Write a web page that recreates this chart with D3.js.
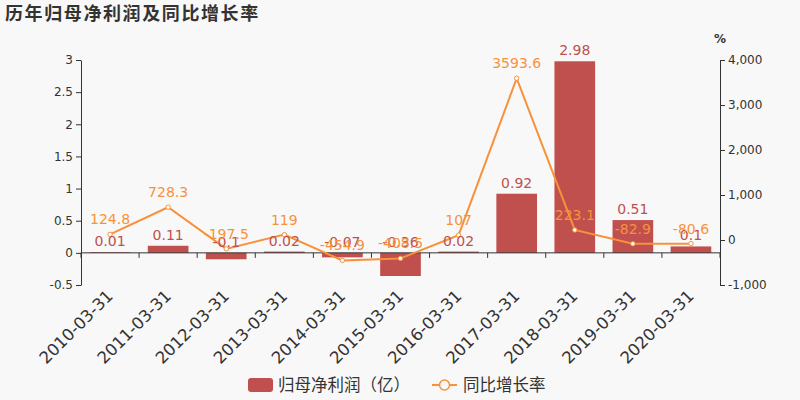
<!DOCTYPE html>
<html>
<head>
<meta charset="utf-8">
<script src="https://cdn.jsdelivr.net/npm/d3@7"></script>
<style>
  body { margin: 0; background: #f8f8f8; }
  svg { display: block; font-family: "DejaVu Sans", "Noto Sans CJK SC", sans-serif; }
  .cjk { font-family: "Noto Sans CJK SC", sans-serif; }
</style>
</head>
<body>
<div id="chart"></div>
<script>
var categories = ['2010-03-31', '2011-03-31', '2012-03-31', '2013-03-31', '2014-03-31', '2015-03-31',
    '2016-03-31', '2017-03-31', '2018-03-31', '2019-03-31', '2020-03-31'];
var profit = [0.01, 0.11, -0.1, 0.02, -0.07, -0.36, 0.02, 0.92, 2.98, 0.51, 0.1];
var growth = [124.8, 728.3, -197.5, 119, -454.9, -408.5, 107, 3593.6, 223.1, -82.9, -80.6];
var leftTicks = [-0.5, 0, 0.5, 1, 1.5, 2, 2.5, 3];
var rightTicks = [-1000, 0, 1000, 2000, 3000, 4000];

var width = 800, height = 400;
var barColor = '#c0504d', lineColor = '#f7923b', textColor = '#333';
var gLeft = 81, gRight = 720, gTop = 60, gBottom = 285;

var svg = d3.select('#chart').append('svg')
    .attr('width', width).attr('height', height);

svg.append('rect').attr('width', width).attr('height', height).attr('fill', '#f8f8f8');

svg.append('text')
    .attr('class', 'cjk')
    .attr('x', 5).attr('y', 20)
    .attr('font-size', 18).attr('font-weight', 'bold').attr('fill', textColor)
    .attr('letter-spacing', 1.6)
    .text('历年归母净利润及同比增长率');

var x = d3.scaleBand().domain(categories).range([gLeft, gRight]);
var yL = d3.scaleLinear().domain([-0.5, 3]).range([gBottom, gTop]);
var yR = d3.scaleLinear().domain([-1000, 4000]).range([gBottom, gTop]);

var comma = d3.format(',');

// left axis
var axL = svg.append('g').attr('transform', 'translate(' + gLeft + ',0)')
    .call(d3.axisLeft(yL).tickValues(leftTicks).tickSize(5).tickSizeOuter(0)
        .tickFormat(function (d) { return String(d); }));
axL.selectAll('text').attr('font-size', 12).attr('fill', textColor).attr('font-family', 'DejaVu Sans');
axL.selectAll('path, line').attr('stroke', textColor);

// right axis
var axR = svg.append('g').attr('transform', 'translate(' + gRight + ',0)')
    .call(d3.axisRight(yR).tickValues(rightTicks).tickSize(5).tickSizeOuter(0)
        .tickFormat(function (d) { return comma(d).replace('\u2212', '-'); }));
axR.selectAll('text').attr('font-size', 12).attr('fill', textColor).attr('font-family', 'DejaVu Sans');
axR.selectAll('path, line').attr('stroke', textColor);

svg.append('text').attr('x', 720).attr('y', 43).attr('text-anchor', 'middle')
    .attr('font-size', 12).attr('font-weight', 'bold').attr('fill', textColor).text('%');

// bars
var bw = x.bandwidth() * 0.7;
svg.append('g').selectAll('rect')
    .data(profit)
    .join('rect')
    .attr('x', function (d, i) { return x(categories[i]) + (x.bandwidth() - bw) / 2; })
    .attr('y', function (d) { return yL(Math.max(0, d)); })
    .attr('width', bw)
    .attr('height', function (d) { return Math.abs(yL(d) - yL(0)); })
    .attr('fill', barColor);

// x axis on zero
var zeroY = yL(0);
svg.append('line').attr('x1', gLeft).attr('x2', gRight).attr('y1', zeroY).attr('y2', zeroY)
    .attr('stroke', textColor);
svg.append('g').selectAll('line')
    .data(categories.concat(['end']))
    .join('line')
    .attr('x1', function (d, i) { return gLeft + i * x.bandwidth(); })
    .attr('x2', function (d, i) { return gLeft + i * x.bandwidth(); })
    .attr('y1', zeroY).attr('y2', zeroY + 5)
    .attr('stroke', textColor);

// x labels
svg.append('g').selectAll('text')
    .data(categories)
    .join('text')
    .attr('transform', function (d) { return 'translate(' + (x(d) + x.bandwidth() / 2 + 4) + ',' + 297 + ') rotate(-45)'; })
    .attr('text-anchor', 'end')
    .attr('font-size', 16.5).attr('fill', textColor)
    .text(function (d) { return d; });

// line
var line = d3.line()
    .x(function (d, i) { return x(categories[i]) + x.bandwidth() / 2; })
    .y(function (d) { return yR(d); });
svg.append('path').datum(growth)
    .attr('d', line).attr('fill', 'none').attr('stroke', lineColor).attr('stroke-width', 2);

svg.append('g').selectAll('circle')
    .data(growth)
    .join('circle')
    .attr('cx', function (d, i) { return x(categories[i]) + x.bandwidth() / 2; })
    .attr('cy', function (d) { return yR(d); })
    .attr('r', 2.2)
    .attr('fill', '#fff').attr('stroke', lineColor).attr('stroke-width', 1);

// bar labels
svg.append('g').selectAll('text')
    .data(profit)
    .join('text')
    .attr('x', function (d, i) { return x(categories[i]) + x.bandwidth() / 2; })
    .attr('y', function (d) { return yL(Math.max(0, d)) - 6; })
    .attr('text-anchor', 'middle')
    .attr('font-size', 14).attr('fill', barColor)
    .text(function (d) { return String(d); });

// line labels
svg.append('g').selectAll('text')
    .data(growth)
    .join('text')
    .attr('x', function (d, i) { return x(categories[i]) + x.bandwidth() / 2; })
    .attr('y', function (d) { return yR(d) - 10; })
    .attr('text-anchor', 'middle')
    .attr('font-size', 14).attr('fill', lineColor)
    .text(function (d) { return String(d); });

// legend
var lg = svg.append('g');
lg.append('rect').attr('x', 248).attr('y', 378).attr('width', 25).attr('height', 14).attr('rx', 3)
    .attr('fill', barColor);
lg.append('text').attr('class', 'cjk').attr('x', 278).attr('y', 391).attr('font-size', 16.5).attr('fill', textColor)
    .text('归母净利润（亿）');
lg.append('line').attr('x1', 432).attr('x2', 457).attr('y1', 385).attr('y2', 385)
    .attr('stroke', lineColor).attr('stroke-width', 2);
lg.append('circle').attr('cx', 444.5).attr('cy', 385).attr('r', 5)
    .attr('fill', '#f8f8f8').attr('stroke', lineColor).attr('stroke-width', 1.5);
lg.append('text').attr('class', 'cjk').attr('x', 463).attr('y', 391).attr('font-size', 16.5).attr('fill', textColor)
    .text('同比增长率');
</script>
</body>
</html>
